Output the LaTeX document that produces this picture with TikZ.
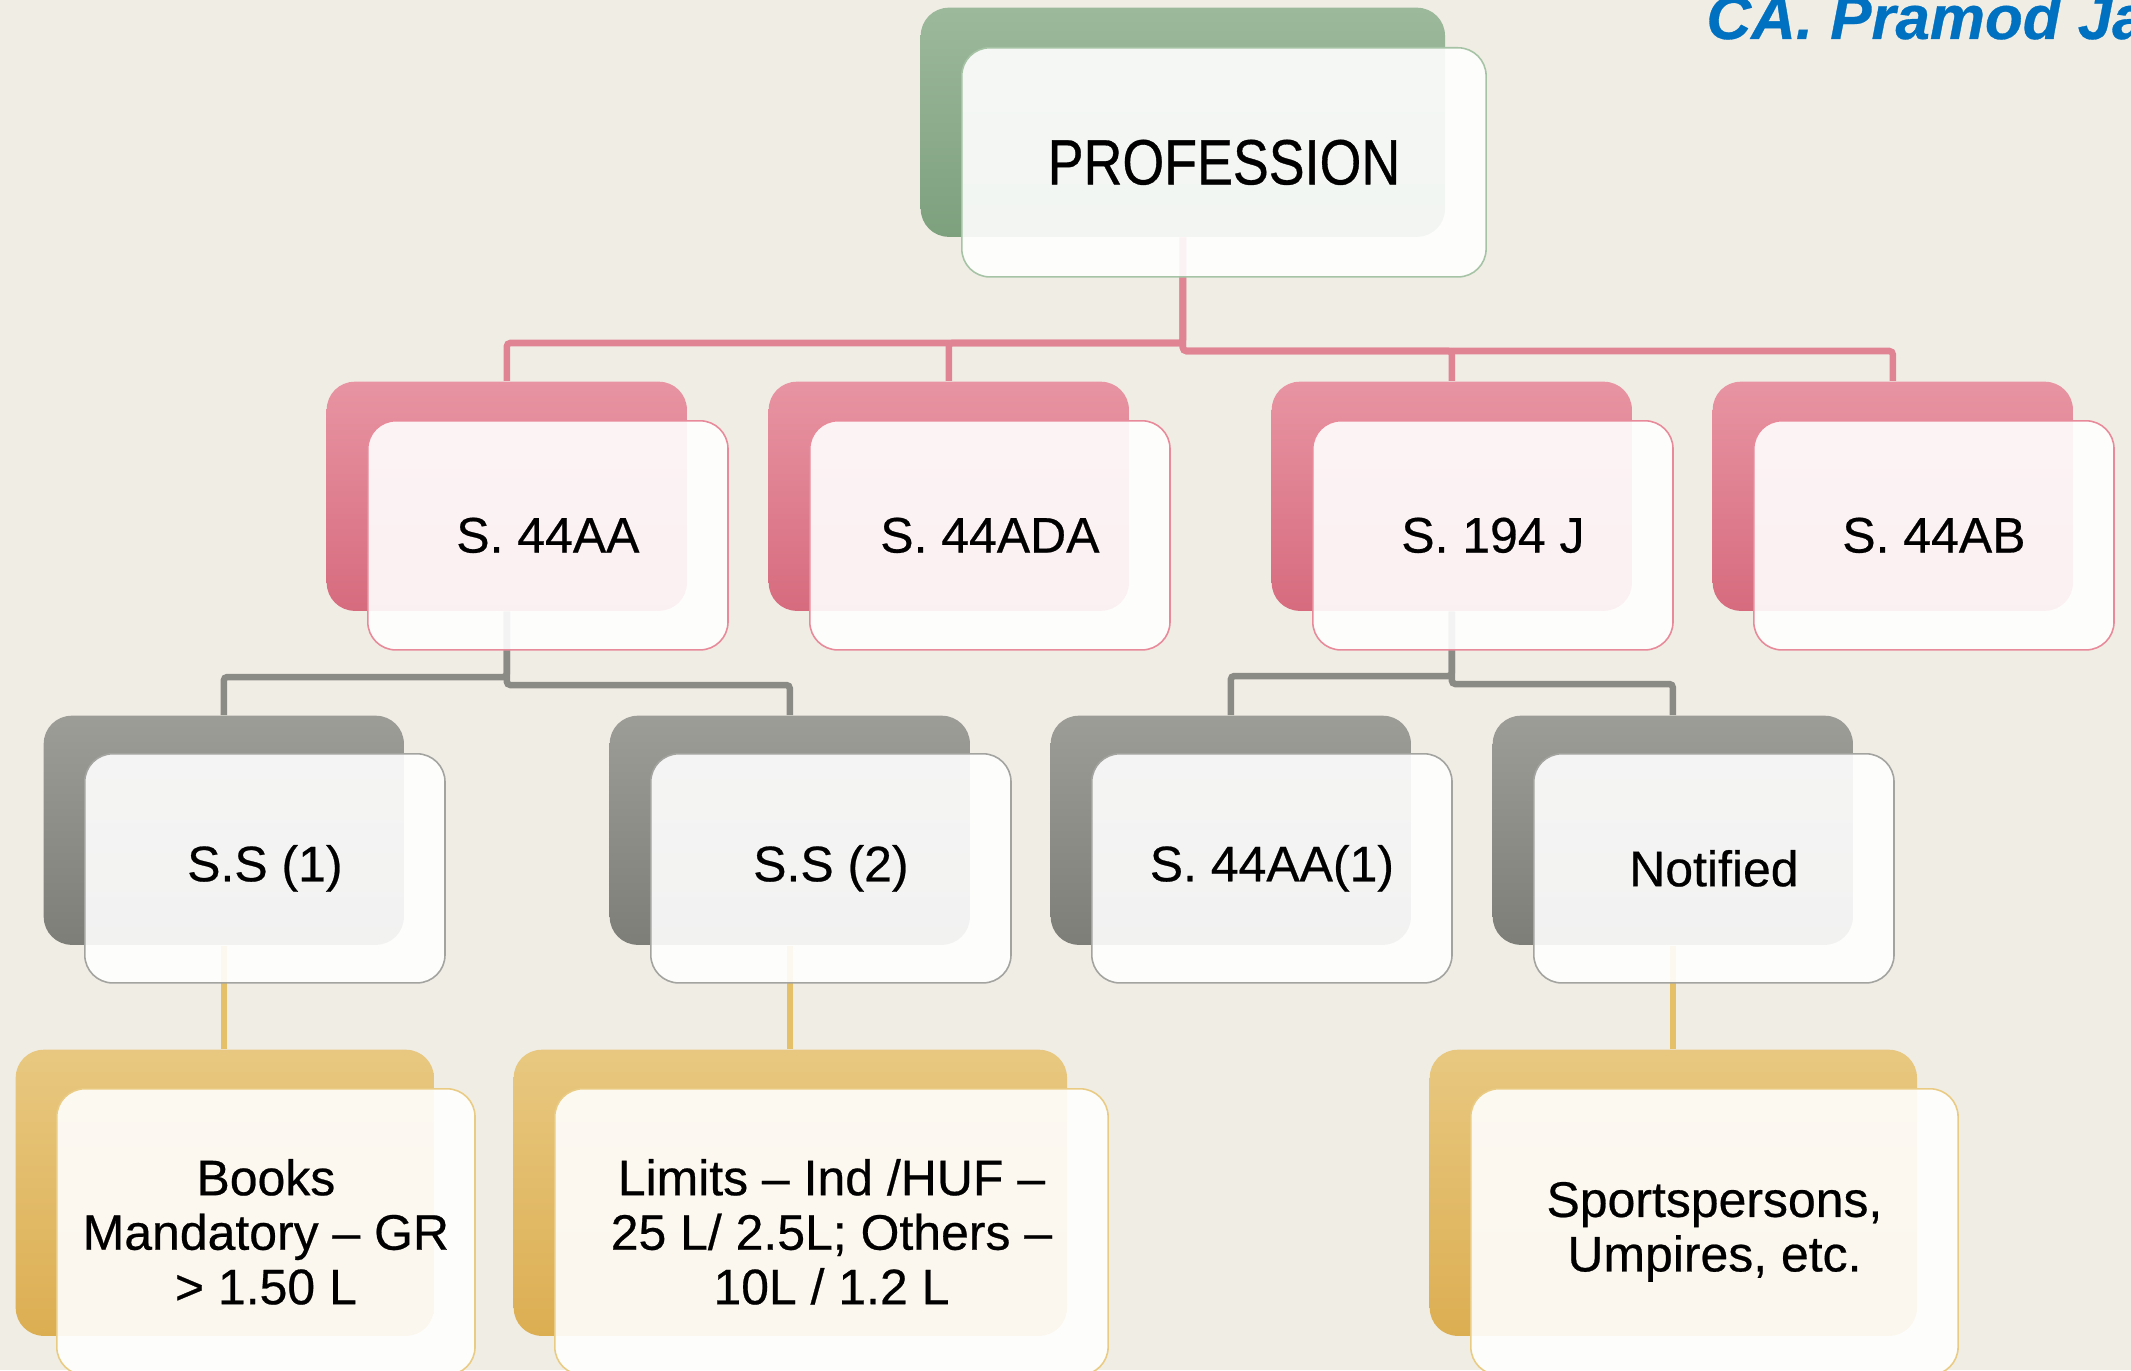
\documentclass[tikz,border=0pt]{standalone}
\usepackage{fontspec}
\setmainfont{Liberation Sans}[FakeBold=0.5]
\newfontfamily\narrowfont{Liberation Sans}[FakeStretch=0.84,FakeBold=0.5]
\definecolor{bgcream}{HTML}{F0EDE5}
\definecolor{greentop}{HTML}{9DB99C}
\definecolor{greenbot}{HTML}{7DA07D}
\definecolor{greenrim}{HTML}{A6C4A5}
\definecolor{pinktop}{HTML}{E894A2}
\definecolor{pinkmid}{HTML}{E47F92}
\definecolor{pinkbot}{HTML}{D66B7E}
\definecolor{pinkrim}{HTML}{E88A9A}
\definecolor{pinkwire}{HTML}{E08494}
\definecolor{graytop}{HTML}{9D9D97}
\definecolor{graybot}{HTML}{7D7E78}
\definecolor{grayrim}{HTML}{A3A3A0}
\definecolor{graywire}{HTML}{8A8B85}
\definecolor{goldtop}{HTML}{E8C880}
\definecolor{goldmid}{HTML}{EDC265}
\definecolor{goldbot}{HTML}{DCAE52}
\definecolor{goldrim}{HTML}{EACB83}
\definecolor{goldwire}{HTML}{E6C068}
\definecolor{cablue}{HTML}{0070C0}
\tikzset{
	backbox/.style={anchor=north west, rounded corners=0.28cm, inner sep=0pt, minimum width=3.6cm, minimum height=2.29cm},
	frontbox/.style={backbox, fill=white, fill opacity=0.9, text opacity=1, line width=0.45pt, align=center, font=\fontsize{14.2}{15.5}\selectfont},
	greenback/.style={backbox, top color=greentop, bottom color=greenbot},
	pinkback/.style={backbox, top color=pinktop, middle color=pinkmid, bottom color=pinkbot},
	grayback/.style={backbox, top color=graytop, bottom color=graybot},
	goldback/.style={backbox, minimum height=2.86cm, top color=goldtop, middle color=goldmid, bottom color=goldbot},
	greenfront/.style={frontbox, draw=greenrim},
	pinkfront/.style={frontbox, draw=pinkrim},
	grayfront/.style={frontbox, draw=grayrim},
	goldfront/.style={frontbox, minimum height=2.86cm, draw=goldrim},
	wire/.style={line width=1.85pt, rounded corners=1pt}
}
\begin{document}
\begin{tikzpicture}[x=0.01cm,y=-0.01cm]
	\useasboundingbox (0,0) rectangle (2131,1370);
	\clip (0,0) rectangle (2131,1370);
	\fill[bgcream] (0,0) rectangle (2131,1370);
	\node[anchor=base west, text=cablue, font=\fontsize{17.6}{20}\selectfont\bfseries\itshape] (author) at (1694,39) {CA. Pramod Ja};
	% hop phia sau
	\node[greenback, minimum width=5.24cm] (prof-b) at (920,7) {};
	\foreach \x/\n in {326/s44aa,768/s44ada,1271/s194j,1712/s44ab}
		\node[pinkback] (\n-b) at (\x,381) {};
	\foreach \x/\n in {43/ss1,609/ss2,1050/s44aa1,1492/notif}
		\node[grayback] (\n-b) at (\x,715) {};
	\node[goldback, minimum width=4.18cm] (books-b) at (15,1049) {};
	\node[goldback, minimum width=5.53cm] (limits-b) at (513,1049) {};
	\node[goldback, minimum width=4.87cm] (sports-b) at (1429,1049) {};
	% duong noi
	\foreach \n/\y in {s44aa/343,s44ada/343,s194j/351,s44ab/351}
		\draw[wire,pinkwire] (prof-b.south) -- (prof-b.south |- 0,\y) -| (\n-b.north);
	\foreach \n/\y in {ss1/677,ss2/685}
		\draw[wire,graywire] (s44aa-b.south) -- (s44aa-b.south |- 0,\y) -| (\n-b.north);
	\foreach \n/\y in {s44aa1/676,notif/684}
		\draw[wire,graywire] (s194j-b.south) -- (s194j-b.south |- 0,\y) -| (\n-b.north);
	\draw[wire,goldwire] (ss1-b.south) -- (ss1-b.south |- books-b.north);
	\draw[wire,goldwire] (ss2-b.south) -- (ss2-b.south |- limits-b.north);
	\draw[wire,goldwire] (notif-b.south) -- (notif-b.south |- sports-b.north);
	% hop phia truoc
	\node[greenfront, minimum width=5.24cm, font=\narrowfont\fontsize{18.2}{20}\selectfont] (prof) at (961,47) {PROFESSION};
	\node[pinkfront] (s44aa) at (367,420) {S. 44AA};
	\node[pinkfront] (s44ada) at (809,420) {S. 44ADA};
	\node[pinkfront] (s194j) at (1312,420) {S. 194 J};
	\node[pinkfront] (s44ab) at (1753,420) {S. 44AB};
	\node[grayfront] (ss1) at (84,753) {S.S (1)};
	\node[grayfront] (ss2) at (650,753) {S.S (2)};
	\node[grayfront] (s44aa1) at (1091,753) {S. 44AA(1)};
	\node[grayfront] (notif) at (1533,753) {Notified};
	\node[goldfront, minimum width=4.18cm] (books) at (56,1088) {Books\\Mandatory – GR\\> 1.50 L};
	\node[goldfront, minimum width=5.53cm] (limits) at (554,1088) {Limits – Ind /HUF –\\25 L/ 2.5L; Others –\\10L / 1.2 L};
	\node[goldfront, minimum width=4.87cm] (sports) at (1470,1088) {Sportspersons,\\Umpires, etc.};
\end{tikzpicture}
\end{document}
